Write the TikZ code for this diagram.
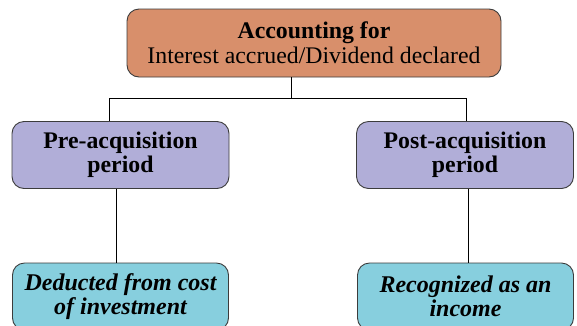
\documentclass[tikz,border=0pt]{standalone}
\usepackage{fontspec}
\setmainfont{Liberation Serif}
\definecolor{topfill}{HTML}{D88F6B}
\definecolor{midfill}{HTML}{B1AED8}
\definecolor{botfill}{HTML}{87CFDE}
\definecolor{edge}{HTML}{3C3C3C}
\tikzset{
  box/.style={draw=edge, line width=0.9pt, rounded corners=12pt, align=center, inner sep=0pt, text=black},
  topbox/.style={box, fill=topfill, minimum width=374pt, minimum height=68pt, font=\fontsize{23.8}{25}\selectfont},
  midbox/.style={box, fill=midfill, minimum width=217pt, minimum height=67pt, font=\fontsize{23.8}{23.5}\selectfont\bfseries},
  botbox/.style={box, fill=botfill, minimum width=216pt, minimum height=67pt, font=\fontsize{24}{24}\selectfont\bfseries\itshape},
  link/.style={draw=black, line width=0.8pt}
}
\begin{document}
\begin{tikzpicture}[x=1pt,y=-1pt]
\useasboundingbox (0,0) rectangle (577,325);
\node[topbox] (top) at (314,43) {\textbf{Accounting for}\\Interest accrued/Dividend declared};
\node[midbox] (pre) at (120.5,155) {Pre-acquisition\\period};
\node[midbox] (post) at (465,155) {Post-acquisition\\period};
\node[botbox] (ded) at (120.5,296.5) {Deducted from cost\\of investment};
\node[botbox] (rec) at (465.5,296.5) {Recognized as an\\income};
\coordinate (j) at (291,98);
\coordinate (jl) at (109,98);
\coordinate (jr) at (466,98);
\coordinate (dl) at (116,0);
\coordinate (dr) at (468,0);
\draw[link] (top.south -| j) -- (j);
\draw[link] (jl) -- (jr);
\draw[link] (jl) -- (jl |- pre.north);
\draw[link] (jr) -- (jr |- post.north);
\draw[link] (pre.south -| dl) -- (ded.north -| dl);
\draw[link] (post.south -| dr) -- (rec.north -| dr);
\end{tikzpicture}
\end{document}
